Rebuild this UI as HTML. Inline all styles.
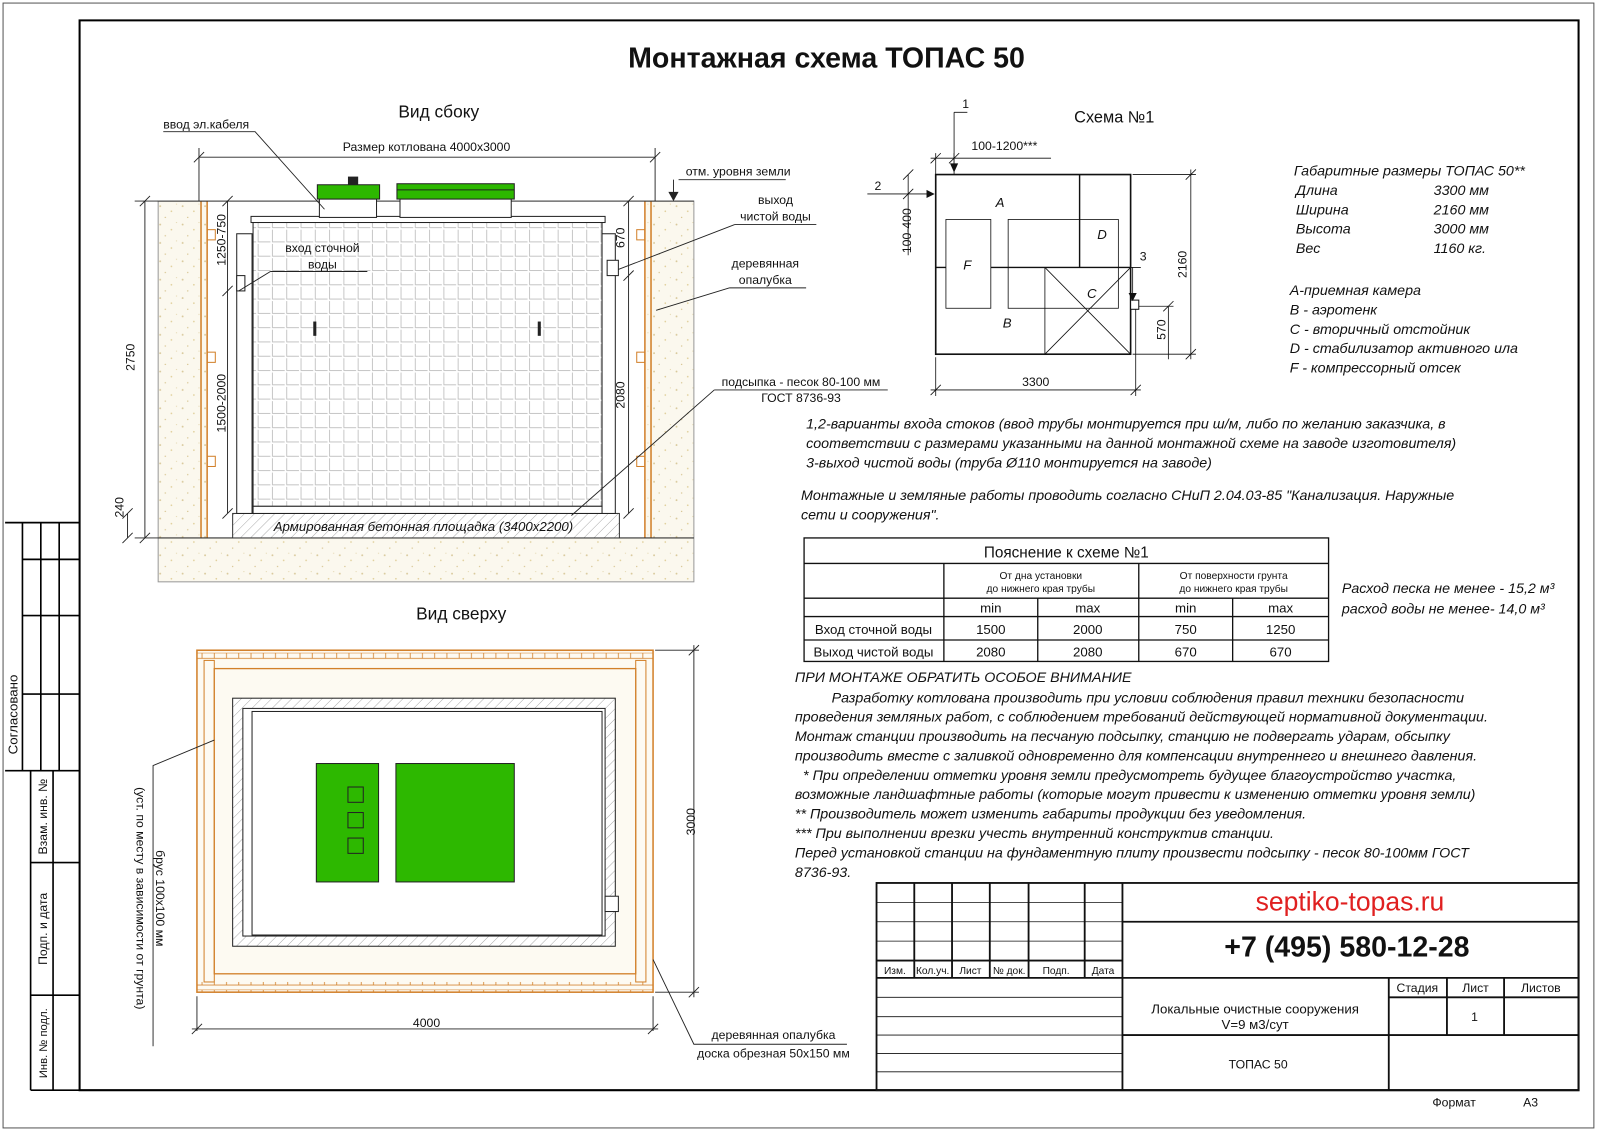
<!DOCTYPE html>
<html><head><meta charset="utf-8"><style>
html,body{margin:0;padding:0;background:#fff}
svg{display:block}
text{font-family:"Liberation Sans","DejaVu Sans",sans-serif;fill:#111}
.i{font-style:italic}
</style></head><body>
<svg width="1600" height="1131" viewBox="0 0 1568 1108" preserveAspectRatio="none" xmlns="http://www.w3.org/2000/svg">
<defs>
<pattern id="sand" width="22" height="18" patternUnits="userSpaceOnUse">
<rect width="22" height="18" fill="#fbf8ee"/>
<circle cx="3" cy="4" r="0.9" fill="#d8c89a"/><circle cx="14" cy="9" r="0.8" fill="#e0cf9a"/><circle cx="8" cy="15" r="0.7" fill="#d6c38e"/><circle cx="19" cy="2" r="0.6" fill="#e3d6ae"/>
</pattern>
<pattern id="grid" width="14" height="14" patternUnits="userSpaceOnUse">
<rect width="14" height="14" fill="#fff"/>
<path d="M1 1V13H13" fill="none" stroke="#bbb" stroke-width="0.8"/>
</pattern>
<pattern id="hatch" width="7" height="7" patternUnits="userSpaceOnUse" patternTransform="rotate(45)">
<rect width="7" height="7" fill="#fff"/><line x1="0" y1="0" x2="0" y2="7" stroke="#888" stroke-width="0.7"/>
</pattern>
<pattern id="plankH" width="12" height="10" patternUnits="userSpaceOnUse">
<line x1="0" y1="5" x2="12" y2="5" stroke="#d2802a" stroke-width="0.8"/><line x1="6" y1="0" x2="6" y2="5" stroke="#d2802a" stroke-width="0.8"/><line x1="0" y1="10" x2="12" y2="10" stroke="#d2802a"/>
</pattern>
</defs>

<!-- borders -->
<rect x="3" y="3" width="1559" height="1102" fill="none" stroke="#555" stroke-width="1"/>
<path d="M78 20H1547V1068H78Z" fill="none" stroke="#000" stroke-width="2"/>
<!-- left strip -->
<g stroke="#000" stroke-width="1.6" fill="none">
<path d="M5 512H78M22 512V755M40 512V755M58 512V755M22 548H78M22 603H78M22 680H78M5 755H78M30 755V1068M52 755V1068M30 845H78M30 975H78M30 1068H78"/>
</g>
<text font-size="13" transform="translate(17,700) rotate(-90)" text-anchor="middle">Согласовано</text>
<text font-size="12" transform="translate(46,800) rotate(-90)" text-anchor="middle">Взам. инв. №</text>
<text font-size="12" transform="translate(46,910) rotate(-90)" text-anchor="middle">Подп. и дата</text>
<text font-size="11" transform="translate(46,1022) rotate(-90)" text-anchor="middle">Инв. № подл.</text>

<text x="810" y="66" font-size="28" font-weight="bold" text-anchor="middle">Монтажная схема ТОПАС 50</text>

<!-- SIDE VIEW -->
<text x="430" y="115" font-size="17" text-anchor="middle">Вид сбоку</text>
<rect x="155" y="197" width="525" height="373" fill="url(#sand)" stroke="#999"/>
<rect x="203" y="197" width="429" height="330" fill="#fff"/>
<g stroke="#d2802a" stroke-width="1.5"><line x1="197" y1="197" x2="197" y2="527"/><line x1="203" y1="197" x2="203" y2="527"/><line x1="632" y1="197" x2="632" y2="527"/><line x1="638" y1="197" x2="638" y2="527"/></g>
<g fill="none" stroke="#d2802a" stroke-width="1"><rect x="203" y="225" width="8" height="10"/><rect x="203" y="345" width="8" height="10"/><rect x="203" y="447" width="8" height="10"/><rect x="624" y="225" width="8" height="10"/><rect x="624" y="345" width="8" height="10"/><rect x="624" y="447" width="8" height="10"/></g>
<line x1="155" y1="197" x2="680" y2="197" stroke="#333"/>
<line x1="155" y1="527" x2="680" y2="527" stroke="#333"/>
<rect x="228" y="503" width="379" height="24" fill="url(#hatch)" stroke="#333"/>
<text x="415" y="520" font-size="13" class="i" text-anchor="middle">Армированная бетонная площадка (3400x2200)</text>
<rect x="232" y="229" width="15" height="274" fill="#fff" stroke="#222"/>
<rect x="588" y="229" width="15" height="274" fill="#fff" stroke="#222"/>
<rect x="246" y="212" width="347" height="6" fill="#fff" stroke="#222"/>
<rect x="248" y="218" width="342" height="278" fill="url(#grid)" stroke="#222"/>
<rect x="248" y="496" width="342" height="7" fill="#fff" stroke="#222"/>
<g fill="#222"><rect x="307" y="315" width="3" height="14"/><rect x="527" y="315" width="3" height="14"/></g>
<rect x="313" y="195" width="56" height="18" fill="#fff" stroke="#222"/>
<rect x="311" y="181" width="61" height="14" fill="#2db800" stroke="#222"/>
<rect x="341" y="173" width="10" height="8" fill="#222"/>
<rect x="392" y="195" width="109" height="18" fill="#fff" stroke="#222"/>
<rect x="389" y="180" width="115" height="15" fill="#2db800" stroke="#222"/>
<line x1="389" y1="186" x2="504" y2="186" stroke="#222"/>
<rect x="232" y="270" width="8" height="15" fill="#fff" stroke="#222"/>
<rect x="595" y="255" width="11" height="15" fill="#fff" stroke="#222"/>
<g stroke="#222" stroke-width="0.9" fill="none">
<path d="M195 154H642M195 145V197M642 145V197M190 159L200 149M637 159L647 149"/>
<path d="M142 197V527M132 197H155M132 527H155M137 202L147 192M137 532L147 522"/>
<path d="M223 197V285M223 285V503M218 290L228 280M218 202L228 192M218 508L228 498"/>
<path d="M616 197V270M616 270V503M611 275L621 265M611 202L621 192M611 508L621 498"/>
<path d="M125 503V527M120 508L130 498M120 532L130 522"/>
<path d="M160 129H250L318 205"/>
<path d="M265 266H360M265 266L234 285"/>
<path d="M665 176H770M660 176V195"/>
<path d="M720 220H800M720 220L606 264"/>
<path d="M715 282H790M715 282L643 304"/>
<path d="M700 382H870M700 382L560 505"/>
</g>
<path d="M655 188L660 197L665 188Z" fill="#222"/>
<text x="160" y="126" font-size="12">ввод эл.кабеля</text>
<text x="418" y="148" font-size="12" text-anchor="middle">Размер котлована 4000x3000</text>
<text x="316" y="247" font-size="12" text-anchor="middle">вход сточной</text>
<text x="316" y="263" font-size="12" text-anchor="middle">воды</text>
<text x="672" y="172" font-size="12">отм. уровня земли</text>
<text x="760" y="200" font-size="12" text-anchor="middle">выход</text>
<text x="760" y="216" font-size="12" text-anchor="middle">чистой воды</text>
<text x="750" y="262" font-size="12" text-anchor="middle">деревянная</text>
<text x="750" y="278" font-size="12" text-anchor="middle">опалубка</text>
<text x="785" y="378" font-size="12" text-anchor="middle">подсыпка - песок 80-100 мм</text>
<text x="785" y="394" font-size="12" text-anchor="middle">ГОСТ 8736-93</text>
<g font-size="12" text-anchor="middle">
<text transform="translate(132,350) rotate(-90)">2750</text>
<text transform="translate(221,235) rotate(-90)">1250-750</text>
<text transform="translate(221,395) rotate(-90)">1500-2000</text>
<text transform="translate(121,497) rotate(-90)">240</text>
<text transform="translate(612,233) rotate(-90)">670</text>
<text transform="translate(612,387) rotate(-90)">2080</text>
</g>

<!-- TOP VIEW -->
<text x="452" y="607" font-size="17" text-anchor="middle">Вид сверху</text>
<rect x="193" y="637" width="447" height="335" fill="#fdfaf2" stroke="#d2802a" stroke-width="1.5"/>
<rect x="193" y="637" width="447" height="10" fill="url(#plankH)"/>
<rect x="193" y="962" width="447" height="10" fill="url(#plankH)"/>
<rect x="200" y="647" width="10" height="315" fill="none" stroke="#d2802a"/>
<rect x="623" y="647" width="10" height="315" fill="none" stroke="#d2802a"/>
<rect x="210" y="655" width="413" height="299" fill="#fdfaf2" stroke="#d2802a" stroke-width="1.3"/>
<rect x="228" y="684" width="375" height="243" fill="url(#hatch)" stroke="#222"/>
<rect x="238" y="694" width="355" height="223" fill="#fff" stroke="#222"/>
<rect x="247" y="697" width="343" height="219" fill="#fff" stroke="#222"/>
<rect x="310" y="748" width="61" height="116" fill="#2db800" stroke="#222"/>
<rect x="388" y="748" width="116" height="116" fill="#2db800" stroke="#222"/>
<g fill="none" stroke="#222"><rect x="341" y="771" width="15" height="15"/><rect x="341" y="796" width="15" height="15"/><rect x="341" y="821" width="15" height="15"/></g>
<rect x="593" y="878" width="13" height="15" fill="#fff" stroke="#222"/>
<g stroke="#222" stroke-width="0.9" fill="none">
<path d="M193 976V1010M640 976V1010M188 1008H645M188 1013L198 1003M635 1013L645 1003"/>
<path d="M642 637H685M642 972H685M680 632V977M675 642L685 632M675 977L685 967"/>
<path d="M150 1025V750L210 725"/>
<path d="M640 940L680 1023H830"/>
</g>
<text x="418" y="1006" font-size="12" text-anchor="middle">4000</text>
<text transform="translate(681,805) rotate(-90)" font-size="12" text-anchor="middle">3000</text>
<text transform="translate(153,880) rotate(90)" font-size="12" text-anchor="middle">брус 100х100 мм</text>
<text transform="translate(134,880) rotate(90)" font-size="12" text-anchor="middle">(уст. по месту в зависимости от грунта)</text>
<text x="758" y="1018" font-size="12" text-anchor="middle">деревянная опалубка</text>
<text x="758" y="1036" font-size="12" text-anchor="middle">доска обрезная 50х150 мм</text>

<!-- SCHEME 1 -->
<text x="1092" y="120" font-size="16" text-anchor="middle">Схема №1</text>
<rect x="917" y="171" width="191" height="176" fill="#fff" stroke="#111" stroke-width="1.6"/>
<g stroke="#111" fill="none">
<path d="M917 262H1108M1058 171V262" stroke-width="1.4"/>
<rect x="927" y="215" width="44" height="87" fill="#fff" stroke-width="0.8"/>
<rect x="988" y="215" width="108" height="87" fill="none" stroke-width="0.8"/>
<rect x="1024" y="262" width="84" height="85" fill="none" stroke-width="0.8"/>
<path d="M1024 262L1108 347M1108 262L1024 347" stroke-width="0.8"/>
<path d="M917 350V388M1113 300V388M912 382H1118M912 387L922 377M1108 387L1118 377" stroke-width="0.8"/>
<path d="M1110 171H1172M1110 347H1172M1167 166V352M1162 176L1172 166M1162 352L1172 342M1115 300H1150M1145 300V352M1140 305L1150 295" stroke-width="0.8"/>
<path d="M917 150V171M935 150V171M912 155H1030M912 160L922 150M930 160L940 150" stroke-width="0.8"/>
<path d="M850 190H915M890 171V250M885 176L895 166M885 195L895 185" stroke-width="0.8"/>
<path d="M935 110V165M935 110H948M1106 262H1118M1110 262V292" stroke-width="0.8"/>
</g>
<rect x="1108" y="294" width="8" height="9" fill="#fff" stroke="#111"/>
<path d="M931 160L935 169L939 160Z M908 186L916 190L908 194Z M1106 287L1110 295L1114 287Z" fill="#111"/>
<g font-size="13" class="i" text-anchor="middle"><text x="980" y="203">A</text><text x="1080" y="234">D</text><text x="948" y="264">F</text><text x="1070" y="292">C</text><text x="987" y="321">B</text></g>
<g font-size="12"><text x="943" y="106">1</text><text x="857" y="186">2</text><text x="1117" y="255">3</text>
<text x="952" y="147">100-1200***</text>
<text x="1015" y="378" text-anchor="middle">3300</text>
<text transform="translate(893,226) rotate(-90)" text-anchor="middle">100-400</text>
<text transform="translate(1163,259) rotate(-90)" text-anchor="middle">2160</text>
<text transform="translate(1142,323) rotate(-90)" text-anchor="middle">570</text></g>

<g font-size="14" class="i">
<text x="1268" y="172">Габаритные размеры ТОПАС 50**</text>
<text x="1270" y="191">Длина</text><text x="1405" y="191">3300 мм</text>
<text x="1270" y="210">Ширина</text><text x="1405" y="210">2160 мм</text>
<text x="1270" y="229">Высота</text><text x="1405" y="229">3000 мм</text>
<text x="1270" y="248">Вес</text><text x="1405" y="248">1160 кг.</text>
<text x="1264" y="289">А-приемная камера</text>
<text x="1264" y="308">В - аэротенк</text>
<text x="1264" y="327">С - вторичный отстойник</text>
<text x="1264" y="346">D - стабилизатор активного ила</text>
<text x="1264" y="365">F - компрессорный отсек</text>
<text x="790" y="420">1,2-варианты входа стоков (ввод трубы монтируется при ш/м, либо по желанию заказчика, в</text>
<text x="790" y="439">соответствии с размерами указанными на данной монтажной схеме на заводе изготовителя)</text>
<text x="790" y="458">3-выход чистой воды (труба Ø110 монтируется на заводе)</text>
<text x="785" y="490">Монтажные и земляные работы проводить согласно СНиП 2.04.03-85 "Канализация. Наружные</text>
<text x="785" y="509">сети и сооружения".</text>
<text x="1315" y="581">Расход песка не менее - 15,2 м³</text>
<text x="1315" y="601">расход воды не менее- 14,0 м³</text>
</g>

<!-- table -->
<g stroke="#111" stroke-width="1.3" fill="none">
<rect x="788" y="527" width="514" height="121"/>
<path d="M788 552H1302M788 586H1302M925 604H1302M788 627H1302M788 604H925M925 552V648M1017 586V648M1116 552V648M1208 586V648"/>
</g>
<g text-anchor="middle">
<text x="1045" y="546" font-size="15">Пояснение к схеме №1</text>
<text x="1020" y="567" font-size="10">От дна установки</text><text x="1020" y="580" font-size="10">до нижнего края трубы</text>
<text x="1209" y="567" font-size="10">От поверхности грунта</text><text x="1209" y="580" font-size="10">до нижнего края трубы</text>
<g font-size="13"><text x="971" y="600">min</text><text x="1066" y="600">max</text><text x="1162" y="600">min</text><text x="1255" y="600">max</text>
<text x="856" y="621">Вход сточной воды</text><text x="971" y="621">1500</text><text x="1066" y="621">2000</text><text x="1162" y="621">750</text><text x="1255" y="621">1250</text>
<text x="856" y="643">Выход чистой воды</text><text x="971" y="643">2080</text><text x="1066" y="643">2080</text><text x="1162" y="643">670</text><text x="1255" y="643">670</text></g>
</g>

<g font-size="14" class="i">
<text x="779" y="668">ПРИ МОНТАЖЕ ОБРАТИТЬ ОСОБОЕ ВНИМАНИЕ</text>
<text x="815" y="688">Разработку котлована производить при условии соблюдения правил техники безопасности</text>
<text x="779" y="707">проведения земляных работ, с соблюдением требований действующей нормативной документации.</text>
<text x="779" y="726">Монтаж станции производить на песчаную подсыпку, станцию не подвергать ударам, обсыпку</text>
<text x="779" y="745">производить вместе с заливкой одновременно для компенсации внутреннего и внешнего давления.</text>
<text x="787" y="764">* При определении отметки уровня земли предусмотреть будущее благоустройство участка,</text>
<text x="779" y="783">возможные ландшафтные работы (которые могут привести к изменению отметки уровня земли)</text>
<text x="779" y="802">** Производитель может изменить габариты продукции без уведомления.</text>
<text x="779" y="821">*** При выполнении врезки учесть внутренний конструктив станции.</text>
<text x="779" y="840">Перед установкой станции на фундаментную плиту произвести подсыпку - песок 80-100мм ГОСТ</text>
<text x="779" y="859">8736-93.</text>
</g>

<!-- title block -->
<g stroke="#111" stroke-width="1.8" fill="none">
<rect x="859" y="865" width="688" height="203"/>
<path d="M896 865V958M933 865V958M970 865V958M1008 865V958M1063 865V958M1100 865V1068"/>
<path d="M859 941H1100M859 958H1547M1100 903H1547M1361 958V1068M1418 958V1014M1474 958V1014M1361 977H1547M1100 1014H1547"/>
</g>
<g stroke="#111" stroke-width="0.8"><path d="M859 884H1100M859 903H1100M859 922H1100M859 977H1100M859 996H1100M859 1014H1100M859 1032H1100M859 1050H1100"/></g>
<g font-size="10" text-anchor="middle"><text x="877" y="954">Изм.</text><text x="914" y="954">Кол.уч.</text><text x="951" y="954">Лист</text><text x="989" y="954">№ док.</text><text x="1035" y="954">Подп.</text><text x="1081" y="954">Дата</text></g>
<text x="1323" y="892" font-size="26" fill="#e02020" style="fill:#e02020" text-anchor="middle">septiko-topas.ru</text>
<text x="1320" y="937" font-size="28" font-weight="bold" text-anchor="middle">+7 (495) 580-12-28</text>
<g font-size="12" text-anchor="middle"><text x="1389" y="972">Стадия</text><text x="1446" y="972">Лист</text><text x="1510" y="972">Листов</text>
<text x="1445" y="1000">1</text>
<text x="1230" y="993" font-size="13">Локальные очистные сооружения</text>
<text x="1230" y="1008" font-size="13">V=9 м3/сут</text>
<text x="1233" y="1047">ТОПАС 50</text>
<text x="1425" y="1084">Формат</text><text x="1500" y="1084">А3</text></g>
</svg>
</body></html>
